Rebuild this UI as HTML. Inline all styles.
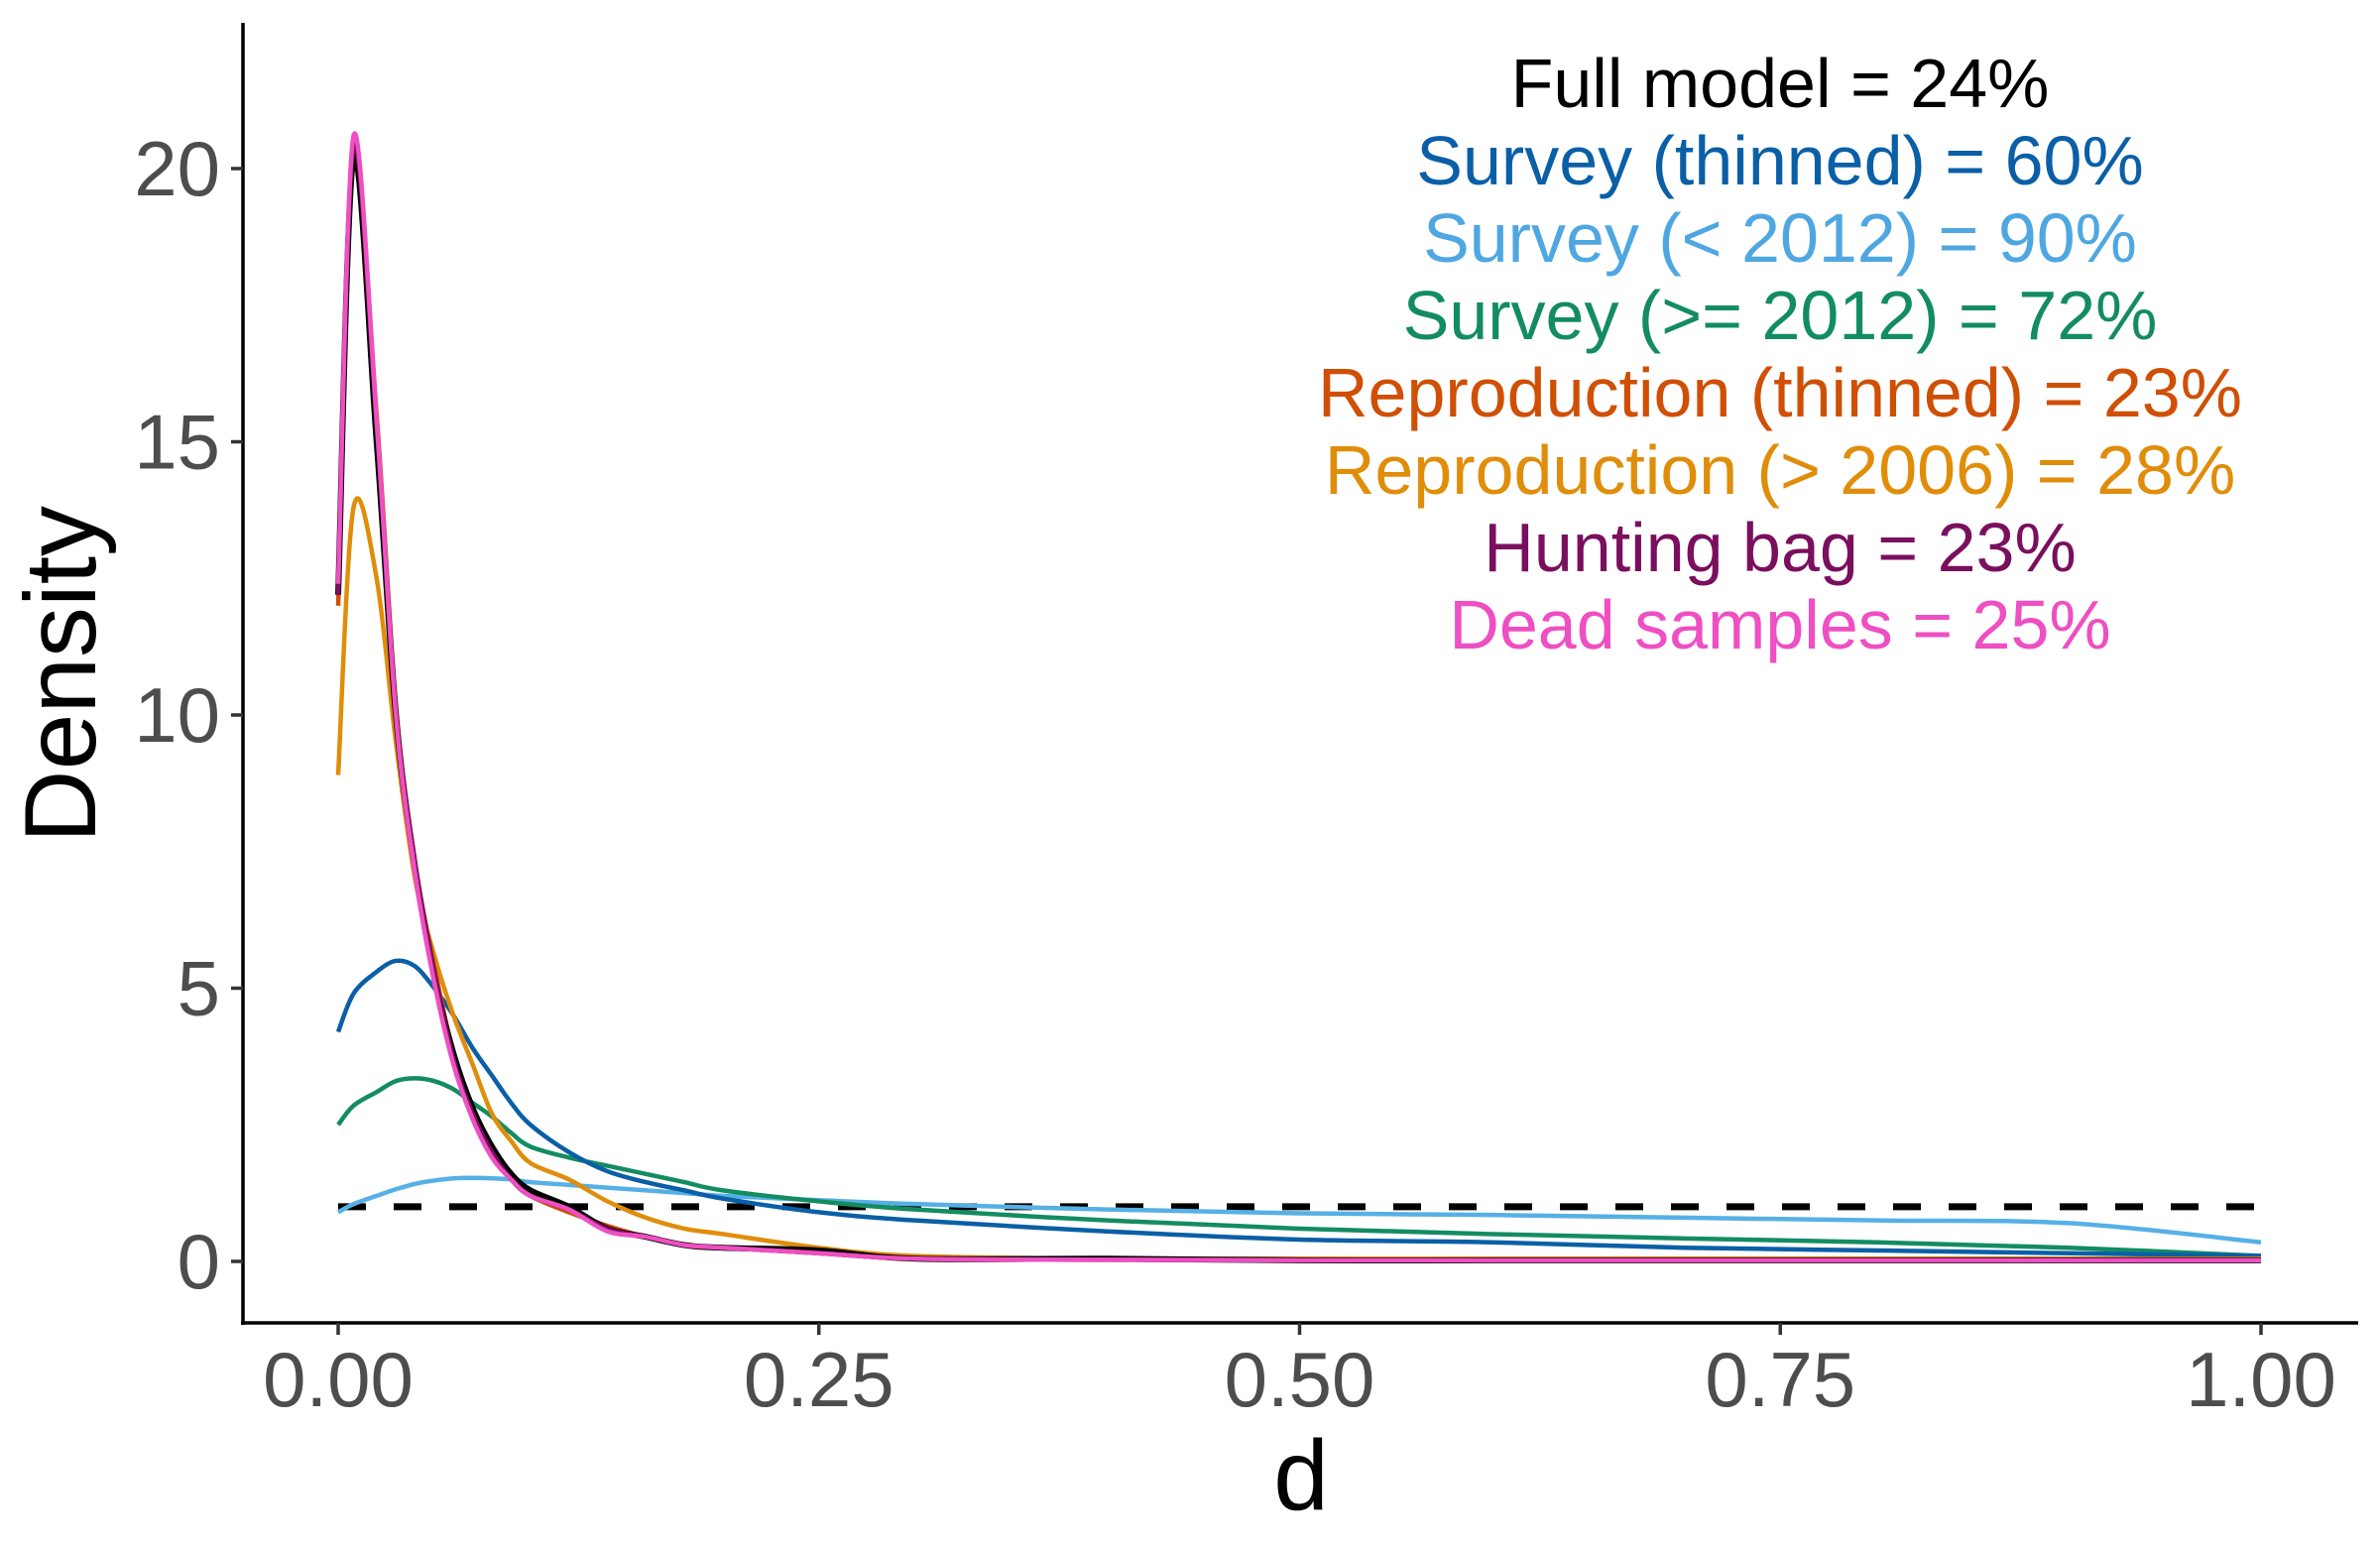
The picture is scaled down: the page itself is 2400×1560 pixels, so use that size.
<!DOCTYPE html>
<html><head><meta charset="utf-8"><style>
html,body{margin:0;padding:0;background:#fff}
svg{display:block}
text{font-family:"Liberation Sans",Arial,sans-serif}
</style></head><body>
<svg id="chart" width="2400" height="1560" viewBox="0 0 2400 1560" xmlns="http://www.w3.org/2000/svg">
<g id="plot"></g>
<g id="axes"></g>
<g id="notes"></g>
</svg>
<script>
const xs = [0,0.008,0.02,0.03,0.04,0.05,0.06,0.07,0.08,0.09,0.1,0.12,0.14,0.16,0.18,0.2,0.25,0.3,0.4,0.5,0.6,0.7,0.8,0.9,1.0];
const fullModel = [12.2,20.2,15,10,7.2,5.2,3.8,2.8,2.1,1.6,1.3,1.0,0.6,0.45,0.3,0.25,0.2,0.05,0.05,0.02,0.02,0.02,0.02,0.02,0.02];
const surveyThinned = [4.2,4.9,5.3,5.5,5.4,5.0,4.5,3.9,3.4,2.9,2.5,2.0,1.65,1.45,1.3,1.15,0.9,0.75,0.55,0.4,0.35,0.25,0.2,0.15,0.1];
const surveyPre2012 = [0.9,1.05,1.2,1.32,1.42,1.48,1.52,1.53,1.52,1.5,1.45,1.4,1.35,1.3,1.25,1.2,1.12,1.05,0.95,0.88,0.85,0.8,0.75,0.7,0.35];
const surveyPost2012 = [2.5,2.85,3.1,3.3,3.35,3.3,3.15,2.9,2.65,2.35,2.1,1.9,1.75,1.6,1.45,1.3,1.1,0.95,0.75,0.6,0.5,0.42,0.35,0.25,0.1];
const reproThinned = [12.0,20.3,15.5,10.2,7.3,5.4,3.8,2.7,2.0,1.5,1.2,0.9,0.65,0.45,0.3,0.25,0.15,0.05,0.03,0.03,0.03,0.03,0.03,0.03,0.03];
const repro2006 = [8.9,13.8,12.5,9.5,7.0,5.6,4.5,3.6,2.7,2.2,1.8,1.5,1.1,0.8,0.6,0.5,0.25,0.1,0.05,0.05,0.05,0.05,0.05,0.05,0.05];
const huntingBag = [12.2,20.4,15.3,10.1,7.3,5.3,3.7,2.7,2.0,1.5,1.2,0.95,0.6,0.45,0.3,0.25,0.15,0.05,0.03,0.02,0.02,0.02,0.02,0.02,0.02];
const deadSamples = [12.4,20.6,15.4,10.0,7.1,5.1,3.6,2.6,1.9,1.5,1.2,0.95,0.55,0.45,0.3,0.25,0.15,0.05,0.03,0.02,0.02,0.02,0.02,0.02,0.02];
const uniformRef = [1,1];
const xTicks = [0,0.25,0.5,0.75,1];
const xTickLabels = ["0.00","0.25","0.50","0.75","1.00"];
const yTicks = [0,5,10,15,20];
const seriesNames = ["survey-pre-2012","survey-post-2012","survey-thinned","reproduction-post-2006","reproduction-thinned","full-model","hunting-bag","dead-samples"];
const seriesData = [surveyPre2012,surveyPost2012,surveyThinned,repro2006,reproThinned,fullModel,huntingBag,deadSamples];
const seriesColors = ["#56B0E6","#138C62","#0A5FA6","#E08D0A","#CF4F05","#000000","#7A0F5E","#EE4FC2"];
const notes = ["Full model = 24%","Survey (thinned) = 60%","Survey (< 2012) = 90%","Survey (>= 2012) = 72%","Reproduction (thinned) = 23%","Reproduction (> 2006) = 28%","Hunting bag = 23%","Dead samples = 25%"];
const noteColors = ["#000000","#0A5FA6","#4FA7E2","#138C62","#CF4F05","#E08D0A","#7A0F5E","#EE4FC2"];

const NS="http://www.w3.org/2000/svg";
const X = v => 341 + v*(2280-341);
const Y = v => 1272 - v*55.1;
function mk(tag, attrs, parent){const e=document.createElementNS(NS,tag);for(const k in attrs)e.setAttribute(k,attrs[k]);parent.appendChild(e);return e;}
function spline(px,py){
  let d="M"+px[0]+","+py[0];
  for(let i=0;i<px.length-1;i++){
    const x0=px[Math.max(i-1,0)],y0=py[Math.max(i-1,0)],x1=px[i],y1=py[i],x2=px[i+1],y2=py[i+1],x3=px[Math.min(i+2,px.length-1)],y3=py[Math.min(i+2,px.length-1)];
    d+=" C"+(x1+(x2-x0)/6)+","+(y1+(y2-y0)/6)+" "+(x2-(x3-x1)/6)+","+(y2-(y3-y1)/6)+" "+x2+","+y2;
  }
  return d;
}
const plot=document.getElementById('plot');
const axes=document.getElementById('axes');
const notesG=document.getElementById('notes');

const dash=mk('line',{x1:X(0),x2:X(1),y1:Y(uniformRef[0]),y2:Y(uniformRef[1]),stroke:"#000","stroke-width":7,"stroke-dasharray":"28,28",fill:"none"},plot);



seriesData.forEach((vals,i)=>{
  const p=mk('path',{d:spline(xs.map(X),vals.map(Y)),fill:"none",stroke:seriesColors[i],"stroke-width":i===5?6:4.5,"stroke-linejoin":"round"},plot);
  
  
});

const ya=mk('line',{x1:245,x2:245,y1:23,y2:1336,stroke:"#000","stroke-width":3.5},axes);


const xa=mk('line',{x1:243,x2:2378,y1:1334,y2:1334,stroke:"#000","stroke-width":3.5},axes);


yTicks.forEach(v=>{
  const t=mk('line',{x1:233,x2:245,y1:Y(v),y2:Y(v),stroke:"#333","stroke-width":3.5},axes);
  
  
  const l=mk('text',{x:222,y:Y(v)+27,"text-anchor":"end","font-size":78,fill:"#4d4d4d"},axes);
  l.textContent=v;
  
  
});
xTicks.forEach((v,i)=>{
  const t=mk('line',{x1:X(v),x2:X(v),y1:1334,y2:1346,stroke:"#333","stroke-width":3.5},axes);
  
  
  const l=mk('text',{x:X(v),y:1418,"text-anchor":"middle","font-size":78,fill:"#4d4d4d"},axes);
  l.textContent=xTickLabels[i];
  
  
});
const xt=mk('text',{x:1312,y:1522,"text-anchor":"middle","font-size":100,fill:"#000"},axes);
xt.textContent="d";


const yt=mk('text',{x:0,y:0,"text-anchor":"middle","font-size":102,fill:"#000",transform:"translate(96,680) rotate(-90)"},axes);
yt.textContent="Density";



notes.forEach((s,i)=>{
  const t=mk('text',{x:1795,y:108+i*78,"text-anchor":"middle","font-size":70,fill:noteColors[i]},notesG);
  t.textContent=s;
  
  
});
</script>
</body></html>
